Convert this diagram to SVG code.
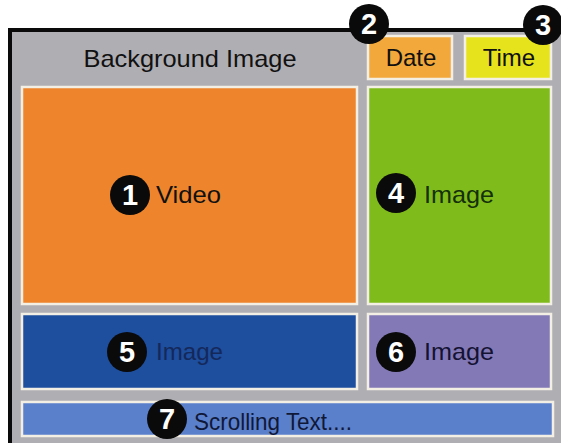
<svg xmlns="http://www.w3.org/2000/svg" width="561" height="443" viewBox="0 0 561 443">
<style>
.box{stroke:#f4efe4;stroke-width:2.5}
.lbl{font-family:"Liberation Sans",Arial,sans-serif;font-size:24px;fill:#111}
.num circle{fill:#0a0a0a}
.num text{font-family:"Liberation Sans",Arial,sans-serif;font-weight:bold;font-size:29px;fill:#fff;text-anchor:middle}
</style>
<rect width="561" height="443" fill="#ffffff"/>
<g id="frame">
<rect x="10" y="30" width="560" height="425" fill="#afaeb3" stroke="#0a0a0a" stroke-width="4"/>
<text class="lbl" x="190" y="67" text-anchor="middle" textLength="213" lengthAdjust="spacingAndGlyphs">Background Image</text>
</g>
<g id="video">
<rect class="box" x="22" y="87" width="335" height="217" fill="#ee852c"/>
<text class="lbl" x="156" y="203" textLength="65" lengthAdjust="spacingAndGlyphs">Video</text>
</g>
<g id="date">
<rect class="box" x="368" y="36" width="84" height="43" fill="#f2a83a"/>
<text class="lbl" x="411" y="66" text-anchor="middle" fill="#2a1a08">Date</text>
</g>
<g id="time">
<rect class="box" x="465" y="36" width="86" height="43" fill="#e6e31c"/>
<text class="lbl" x="509" y="66" text-anchor="middle">Time</text>
</g>
<g id="image4">
<rect class="box" x="368" y="87" width="183" height="217" fill="#80bb1c"/>
<text class="lbl" x="424" y="203" style="fill:#13300a" textLength="70" lengthAdjust="spacingAndGlyphs">Image</text>
</g>
<g id="image5">
<rect class="box" x="22" y="314" width="335" height="75" fill="#1e4e9e"/>
<text class="lbl" x="156" y="360" style="fill:#14285a" textLength="67" lengthAdjust="spacingAndGlyphs">Image</text>
</g>
<g id="image6">
<rect class="box" x="368" y="314" width="183" height="75" fill="#8379b7"/>
<text class="lbl" x="424" y="360" style="fill:#141232" textLength="70" lengthAdjust="spacingAndGlyphs">Image</text>
</g>
<g id="scrolling">
<rect class="box" x="22" y="402" width="531" height="34" fill="#5a7fcb"/>
<text class="lbl" x="194" y="430" style="fill:#101838" textLength="158" lengthAdjust="spacingAndGlyphs">Scrolling Text....</text>
</g>
<g id="badges" class="num">
<g id="n1"><circle cx="130" cy="195" r="20"/><text x="130" y="205">1</text></g>
<g id="n2"><circle cx="369" cy="24" r="20"/><text x="369" y="34">2</text></g>
<g id="n3"><circle cx="543" cy="25" r="20"/><text x="543" y="35">3</text></g>
<g id="n4"><circle cx="396" cy="193" r="20"/><text x="396" y="203">4</text></g>
<g id="n5"><circle cx="127" cy="352" r="20"/><text x="127" y="362">5</text></g>
<g id="n6"><circle cx="396" cy="352" r="20"/><text x="396" y="362">6</text></g>
<g id="n7"><circle cx="167" cy="419" r="20"/><text x="167" y="429">7</text></g>
</g>
<g id="connectors"></g>
</svg>
